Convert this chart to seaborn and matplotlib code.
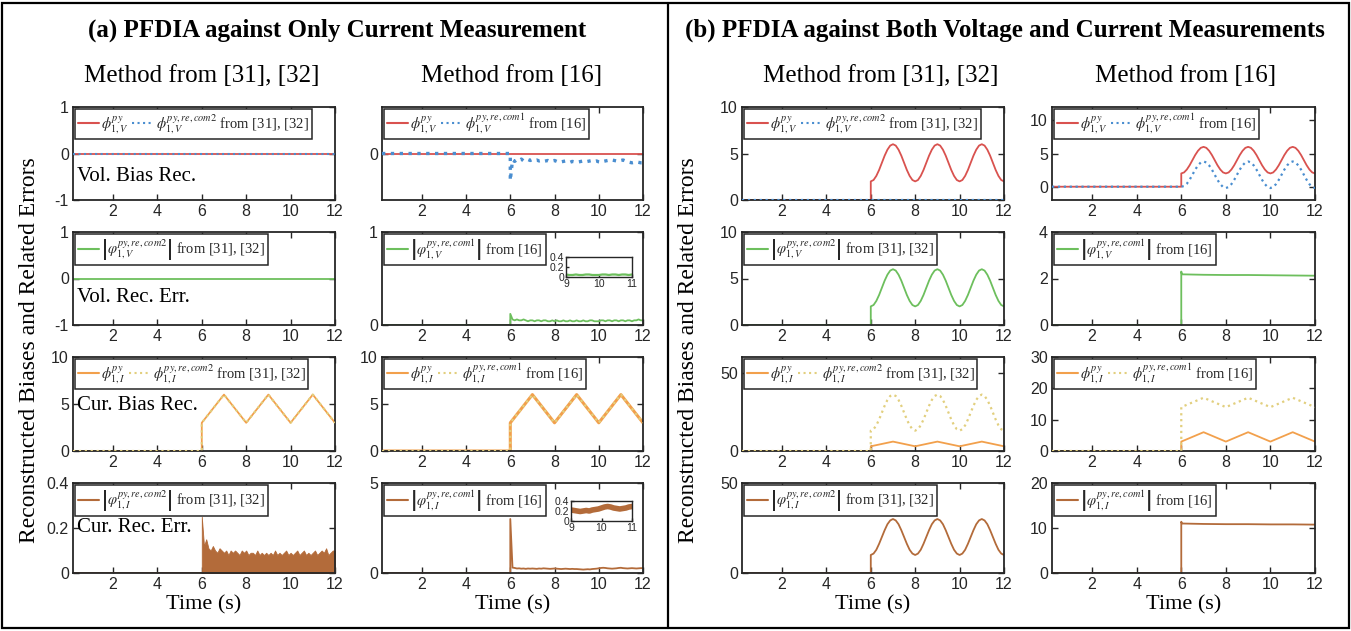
import numpy as np
import matplotlib
matplotlib.use("Agg")
import matplotlib.pyplot as plt
from matplotlib.lines import Line2D
from matplotlib.patches import Rectangle
from matplotlib.ticker import FuncFormatter
import seaborn as sns

# ------------------------------------------------------------------ data
T_PRE = [0.2, 6.0]
ZERO_PRE = [0.0, 0.0]
T_FULL = [0.2, 12.0]
ZERO_FULL = [0.0, 0.0]

# triangular current bias (vertices)
T_TRI = [6.0, 7.0, 8.0, 9.0, 10.0, 11.0, 12.0]
cur_bias_true = [3.0, 6.0, 3.0, 6.0, 3.0, 6.0, 3.0]
cur_bias_rec16_b = [14.0, 17.0, 14.0, 17.0, 14.0, 17.0, 14.0]

# sinusoidal signals, sampled every 0.125 s from 6 s to 12 s
T_SINE = [6.0, 6.125, 6.25, 6.375, 6.5, 6.625, 6.75, 6.875,
          7.0, 7.125, 7.25, 7.375, 7.5, 7.625, 7.75, 7.875,
          8.0, 8.125, 8.25, 8.375, 8.5, 8.625, 8.75, 8.875,
          9.0, 9.125, 9.25, 9.375, 9.5, 9.625, 9.75, 9.875,
          10.0, 10.125, 10.25, 10.375, 10.5, 10.625, 10.75, 10.875,
          11.0, 11.125, 11.25, 11.375, 11.5, 11.625, 11.75, 11.875, 12.0]
vol_bias_true_b = [2.00, 2.15, 2.59, 3.23, 4.00, 4.77, 5.41, 5.85,
                   6.00, 5.85, 5.41, 4.77, 4.00, 3.23, 2.59, 2.15,
                   2.00, 2.15, 2.59, 3.23, 4.00, 4.77, 5.41, 5.85,
                   6.00, 5.85, 5.41, 4.77, 4.00, 3.23, 2.59, 2.15,
                   2.00, 2.15, 2.59, 3.23, 4.00, 4.77, 5.41, 5.85,
                   6.00, 5.85, 5.41, 4.77, 4.00, 3.23, 2.59, 2.15, 2.00]
vol_err_com2_b = [2.00, 2.15, 2.59, 3.23, 4.00, 4.77, 5.41, 5.85,
                  6.00, 5.85, 5.41, 4.77, 4.00, 3.23, 2.59, 2.15,
                  2.00, 2.15, 2.59, 3.23, 4.00, 4.77, 5.41, 5.85,
                  6.00, 5.85, 5.41, 4.77, 4.00, 3.23, 2.59, 2.15,
                  2.00, 2.15, 2.59, 3.23, 4.00, 4.77, 5.41, 5.85,
                  6.00, 5.85, 5.41, 4.77, 4.00, 3.23, 2.59, 2.15, 2.00]
vol_bias_rec16_b = [0.00, 0.10, 0.45, 1.05, 1.80, 2.57, 3.21, 3.65,
                    3.80, 3.65, 3.21, 2.57, 1.80, 1.03, 0.39, -0.05,
                    -0.20, -0.05, 0.39, 1.03, 1.80, 2.57, 3.21, 3.65,
                    3.80, 3.65, 3.21, 2.57, 1.80, 1.03, 0.39, -0.05,
                    -0.20, -0.05, 0.39, 1.03, 1.80, 2.57, 3.21, 3.65,
                    3.80, 3.65, 3.21, 2.57, 1.80, 1.03, 0.39, -0.05, -0.20]
cur_bias_rec_com2_b = [13.0, 13.9, 16.4, 20.1, 24.5, 28.9, 32.6, 35.1,
                       36.0, 35.1, 32.6, 28.9, 24.5, 20.1, 16.4, 13.9,
                       13.0, 13.9, 16.4, 20.1, 24.5, 28.9, 32.6, 35.1,
                       36.0, 35.1, 32.6, 28.9, 24.5, 20.1, 16.4, 13.9,
                       13.0, 13.9, 16.4, 20.1, 24.5, 28.9, 32.6, 35.1,
                       36.0, 35.1, 32.6, 28.9, 24.5, 20.1, 16.4, 13.9, 13.0]
cur_err_com2_b = [10.0, 10.8, 12.9, 16.2, 20.0, 23.8, 27.1, 29.2,
                  30.0, 29.2, 27.1, 23.8, 20.0, 16.2, 12.9, 10.8,
                  10.0, 10.8, 12.9, 16.2, 20.0, 23.8, 27.1, 29.2,
                  30.0, 29.2, 27.1, 23.8, 20.0, 16.2, 12.9, 10.8,
                  10.0, 10.8, 12.9, 16.2, 20.0, 23.8, 27.1, 29.2,
                  30.0, 29.2, 27.1, 23.8, 20.0, 16.2, 12.9, 10.8, 10.0]

# nearly constant errors of method [16] in (b)
T_FLAT = [6.0, 6.03, 6.5, 7.0, 8.0, 9.0, 10.0, 11.0, 12.0]
vol_err16_b = [2.30, 2.18, 2.17, 2.16, 2.15, 2.15, 2.14, 2.13, 2.12]
cur_err16_b = [11.4, 11.0, 10.95, 10.9, 10.85, 10.85, 10.8, 10.8, 10.75]

# noisy signals in (a), sampled every 0.1 s from 6 s to 12 s
T_NOISE = [6.0, 6.1, 6.2, 6.3, 6.4, 6.5, 6.6, 6.7, 6.8, 6.9,
           7.0, 7.1, 7.2, 7.3, 7.4, 7.5, 7.6, 7.7, 7.8, 7.9,
           8.0, 8.1, 8.2, 8.3, 8.4, 8.5, 8.6, 8.7, 8.8, 8.9,
           9.0, 9.1, 9.2, 9.3, 9.4, 9.5, 9.6, 9.7, 9.8, 9.9,
           10.0, 10.1, 10.2, 10.3, 10.4, 10.5, 10.6, 10.7, 10.8, 10.9,
           11.0, 11.1, 11.2, 11.3, 11.4, 11.5, 11.6, 11.7, 11.8, 11.9, 12.0]
vol_bias_rec16_a = [-0.58, -0.14, -0.17, -0.13, -0.15, -0.12, -0.16, -0.14, -0.13, -0.15,
                    -0.13, -0.15, -0.14, -0.16, -0.15, -0.17, -0.16, -0.15, -0.17, -0.16,
                    -0.15, -0.17, -0.16, -0.18, -0.17, -0.16, -0.18, -0.19, -0.17, -0.18,
                    -0.19, -0.18, -0.17, -0.16, -0.18, -0.17, -0.16, -0.15, -0.17, -0.16,
                    -0.18, -0.19, -0.17, -0.16, -0.15, -0.16, -0.14, -0.15, -0.16, -0.17,
                    -0.15, -0.14, -0.16, -0.18, -0.19, -0.20, -0.19, -0.18, -0.19, -0.20, -0.20]
vol_err16_a = [0.12, 0.06, 0.05, 0.06, 0.05, 0.05, 0.06, 0.05, 0.04, 0.05,
               0.05, 0.04, 0.05, 0.05, 0.04, 0.05, 0.05, 0.04, 0.04, 0.05,
               0.04, 0.05, 0.04, 0.04, 0.05, 0.04, 0.04, 0.05, 0.04, 0.04,
               0.05, 0.04, 0.04, 0.05, 0.04, 0.04, 0.05, 0.05, 0.04, 0.04,
               0.04, 0.05, 0.05, 0.04, 0.05, 0.05, 0.04, 0.05, 0.05, 0.04,
               0.05, 0.05, 0.04, 0.05, 0.05, 0.04, 0.05, 0.05, 0.06, 0.05, 0.05]
cur_err_env_com2_a = [0.25, 0.12, 0.15, 0.11, 0.10, 0.12, 0.10, 0.09, 0.11, 0.10,
                      0.09, 0.10, 0.08, 0.10, 0.09, 0.10, 0.09, 0.08, 0.10, 0.09,
                      0.10, 0.08, 0.09, 0.09, 0.08, 0.10, 0.08, 0.09, 0.08, 0.09,
                      0.08, 0.09, 0.08, 0.10, 0.08, 0.09, 0.08, 0.09, 0.10, 0.08,
                      0.09, 0.08, 0.09, 0.10, 0.08, 0.09, 0.10, 0.08, 0.09, 0.08,
                      0.09, 0.10, 0.08, 0.09, 0.10, 0.09, 0.11, 0.08, 0.09, 0.10, 0.10]
cur_err16_a = [3.00, 0.30, 0.28, 0.25, 0.26, 0.24, 0.25, 0.23, 0.25, 0.24,
               0.25, 0.24, 0.23, 0.25, 0.24, 0.26, 0.25, 0.24, 0.23, 0.24,
               0.25, 0.24, 0.23, 0.22, 0.23, 0.24, 0.23, 0.22, 0.23, 0.22,
               0.22, 0.21, 0.20, 0.19, 0.20, 0.21, 0.20, 0.22, 0.23, 0.24,
               0.26, 0.28, 0.29, 0.28, 0.26, 0.25, 0.24, 0.25, 0.26, 0.28,
               0.29, 0.27, 0.26, 0.25, 0.26, 0.27, 0.26, 0.25, 0.26, 0.27, 0.27]

# ------------------------------------------------------------------ style
sns.set_theme(style="ticks")
plt.rcParams['font.family'] = ['Liberation Sans', 'DejaVu Sans']
plt.rcParams['mathtext.fontset'] = 'stix'
plt.rcParams['axes.unicode_minus'] = False

RED = '#D9524F'
BLUE = '#4A8ED0'
GREEN = '#6DBF5D'
ORANGE = '#F2A04C'
YELLOW = '#E2CF7E'
BROWN = '#B36B3A'
DARK = '#262626'
SERIF = 'Liberation Serif'

W, H = 1351, 631
fig = plt.figure(figsize=(W / 100, H / 100), dpi=100)
fig.patch.set_facecolor('white')

COLS = {'a1': (73, 335), 'a2': (382, 643), 'b1': (742, 1004), 'b2': (1052, 1315)}
ROWS = [(107, 200), (232, 325), (357, 451), (483, 573)]


def px_axes(l, r, t, b):
    return fig.add_axes([l / W, 1 - b / H, (r - l) / W, (b - t) / H])


fmt = FuncFormatter(lambda v, p: f"{v:g}")


def style_axes(ax, ylim, yticks, xlim=(0.2, 12), xticks=(2, 4, 6, 8, 10, 12),
               size=11.5, tlen=4, lw=1.3, pad=3):
    ax.set_xlim(*xlim)
    ax.set_ylim(*ylim)
    ax.set_xticks(list(xticks))
    ax.set_yticks(list(yticks))
    ax.xaxis.set_major_formatter(fmt)
    ax.yaxis.set_major_formatter(fmt)
    ax.tick_params(direction='in', top=True, right=True, length=tlen, width=1,
                   labelsize=size, color=DARK, labelcolor=DARK, pad=pad)
    for s in ax.spines.values():
        s.set_visible(True)
        s.set_linewidth(lw)
        s.set_color(DARK)
    ax.set_xlabel('')
    ax.set_ylabel('')
    ax.grid(False)
    ax.set_facecolor('white')


def line(ax, t, v, color, ls='-', lw=1.3, z=2):
    sns.lineplot(x=list(t), y=list(v), ax=ax, color=color, linestyle=ls, linewidth=lw,
                 estimator=None, sort=False, errorbar=None, legend=False, zorder=z)


def legend(ax, entries):
    handles = [Line2D([], [], color=c, ls=ls, lw=1.5) for c, ls, _ in entries]
    labels = [e[2] for e in entries]
    leg = ax.legend(handles, labels, loc='upper left', ncol=len(entries),
                    prop={'family': SERIF, 'size': 10.5}, frameon=True, fancybox=False,
                    edgecolor=DARK, framealpha=1, borderpad=0.2, handlelength=1.4,
                    handletextpad=0.2, columnspacing=0.25, borderaxespad=0.15)
    leg.get_frame().set_linewidth(1.1)
    leg.set_zorder(5)


REF2 = 'from [31], [32]'
REF1 = 'from [16]'
ERR_V2 = r'$\left|\varphi_{1,V}^{py,re,com2}\right|$ '
ERR_V1 = r'$\left|\varphi_{1,V}^{py,re,com1}\right|$ '
ERR_I2 = r'$\left|\varphi_{1,I}^{py,re,com2}\right|$ '
ERR_I1 = r'$\left|\varphi_{1,I}^{py,re,com1}\right|$ '

axes = {}
for col, (l, r) in COLS.items():
    for i, (t, b) in enumerate(ROWS):
        axes[(col, i)] = px_axes(l, r, t, b)

# ---- (a) column 1: method from [31],[32]
ax = axes[('a1', 0)]
line(ax, T_FULL, ZERO_FULL, RED)
line(ax, T_FULL, ZERO_FULL, BLUE, ':', 1.5, 3)
style_axes(ax, (-1, 1), [-1, 0, 1])
legend(ax, [(RED, '-', r'$\phi_{1,V}^{py}$'),
            (BLUE, ':', r'$\phi_{1,V}^{py,re,com2}$ ' + REF2)])

ax = axes[('a1', 1)]
line(ax, T_FULL, ZERO_FULL, GREEN)
style_axes(ax, (-1, 1), [-1, 0, 1])
legend(ax, [(GREEN, '-', ERR_V2 + REF2)])

ax = axes[('a1', 2)]
line(ax, T_PRE + T_TRI, ZERO_PRE + cur_bias_true, ORANGE)
line(ax, T_PRE + T_TRI, ZERO_PRE + cur_bias_true, YELLOW, ':', 1.6, 3)
style_axes(ax, (0, 10), [0, 5, 10])
legend(ax, [(ORANGE, '-', r'$\phi_{1,I}^{py}$'),
            (YELLOW, ':', r'$\phi_{1,I}^{py,re,com2}$ ' + REF2)])

ax = axes[('a1', 3)]
line(ax, T_PRE, ZERO_PRE, BROWN)
ax.fill_between(T_NOISE, 0, cur_err_env_com2_a, color=BROWN, linewidth=0.6, zorder=2)
style_axes(ax, (0, 0.4), [0, 0.2, 0.4])
legend(ax, [(BROWN, '-', ERR_I2 + REF2)])

# ---- (a) column 2: method from [16]
ax = axes[('a2', 0)]
line(ax, T_FULL, ZERO_FULL, RED)
line(ax, T_PRE + T_NOISE, ZERO_PRE + vol_bias_rec16_a, BLUE, ':', 2.4, 3)
style_axes(ax, (-1, 1), [0])
legend(ax, [(RED, '-', r'$\phi_{1,V}^{py}$'),
            (BLUE, ':', r'$\phi_{1,V}^{py,re,com1}$ ' + REF1)])

ax = axes[('a2', 1)]
line(ax, T_PRE + T_NOISE, ZERO_PRE + vol_err16_a, GREEN)
style_axes(ax, (0, 1), [0, 1])
legend(ax, [(GREEN, '-', ERR_V1 + REF1)])
ins = px_axes(566, 632, 257, 277)
line(ins, T_NOISE, vol_err16_a, GREEN, '-', 1.6)
style_axes(ins, (0, 0.4), [0, 0.2, 0.4], xlim=(9, 11), xticks=(9, 10, 11),
           size=7.5, tlen=2, lw=1.0, pad=1.5)
ins.tick_params(top=False, right=False)

ax = axes[('a2', 2)]
line(ax, T_PRE + T_TRI, ZERO_PRE + cur_bias_true, ORANGE, '-', 2.2)
line(ax, T_PRE + T_TRI, ZERO_PRE + cur_bias_true, YELLOW, ':', 1.6, 3)
style_axes(ax, (0, 10), [0, 5, 10])
legend(ax, [(ORANGE, '-', r'$\phi_{1,I}^{py}$'),
            (YELLOW, ':', r'$\phi_{1,I}^{py,re,com1}$ ' + REF1)])

ax = axes[('a2', 3)]
line(ax, T_PRE + T_NOISE, ZERO_PRE + cur_err16_a, BROWN)
style_axes(ax, (0, 5), [0, 5])
legend(ax, [(BROWN, '-', ERR_I1 + REF1)])
ins = px_axes(571, 632, 501, 521)
line(ins, T_NOISE, cur_err16_a, BROWN, '-', 4.0)
style_axes(ins, (0, 0.4), [0, 0.2, 0.4], xlim=(9, 11), xticks=(9, 10, 11),
           size=7.5, tlen=2, lw=1.0, pad=1.5)
ins.tick_params(top=False, right=False)

# ---- (b) column 1: method from [31],[32]
ax = axes[('b1', 0)]
line(ax, T_PRE + T_SINE, ZERO_PRE + vol_bias_true_b, RED)
line(ax, T_FULL, ZERO_FULL, BLUE, ':', 1.6, 3)
style_axes(ax, (0, 10), [0, 5, 10])
legend(ax, [(RED, '-', r'$\phi_{1,V}^{py}$'),
            (BLUE, ':', r'$\phi_{1,V}^{py,re,com2}$ ' + REF2)])

ax = axes[('b1', 1)]
line(ax, T_PRE + T_SINE, ZERO_PRE + vol_err_com2_b, GREEN)
style_axes(ax, (0, 10), [0, 5, 10])
legend(ax, [(GREEN, '-', ERR_V2 + REF2)])

ax = axes[('b1', 2)]
line(ax, T_PRE + T_TRI, ZERO_PRE + cur_bias_true, ORANGE)
line(ax, T_PRE + T_SINE, ZERO_PRE + cur_bias_rec_com2_b, YELLOW, ':', 1.6, 3)
style_axes(ax, (0, 60), [0, 50])
legend(ax, [(ORANGE, '-', r'$\phi_{1,I}^{py}$'),
            (YELLOW, ':', r'$\phi_{1,I}^{py,re,com2}$ ' + REF2)])

ax = axes[('b1', 3)]
line(ax, T_PRE + T_SINE, ZERO_PRE + cur_err_com2_b, BROWN)
style_axes(ax, (0, 50), [0, 50])
legend(ax, [(BROWN, '-', ERR_I2 + REF2)])

# ---- (b) column 2: method from [16]
ax = axes[('b2', 0)]
line(ax, T_PRE + T_SINE, ZERO_PRE + vol_bias_true_b, RED)
line(ax, T_PRE + T_SINE, ZERO_PRE + vol_bias_rec16_b, BLUE, ':', 1.6, 3)
style_axes(ax, (-2, 12), [0, 5, 10])
legend(ax, [(RED, '-', r'$\phi_{1,V}^{py}$'),
            (BLUE, ':', r'$\phi_{1,V}^{py,re,com1}$ ' + REF1)])

ax = axes[('b2', 1)]
line(ax, T_PRE + T_FLAT, ZERO_PRE + vol_err16_b, GREEN)
style_axes(ax, (0, 4), [0, 2, 4])
legend(ax, [(GREEN, '-', ERR_V1 + REF1)])

ax = axes[('b2', 2)]
line(ax, T_PRE + T_TRI, ZERO_PRE + cur_bias_true, ORANGE)
line(ax, T_PRE + T_TRI, ZERO_PRE + cur_bias_rec16_b, YELLOW, ':', 1.6, 3)
style_axes(ax, (0, 30), [0, 10, 20, 30])
legend(ax, [(ORANGE, '-', r'$\phi_{1,I}^{py}$'),
            (YELLOW, ':', r'$\phi_{1,I}^{py,re,com1}$ ' + REF1)])

ax = axes[('b2', 3)]
line(ax, T_PRE + T_FLAT, ZERO_PRE + cur_err16_b, BROWN)
style_axes(ax, (0, 20), [0, 10, 20])
legend(ax, [(BROWN, '-', ERR_I1 + REF1)])

# ------------------------------------------------------------------ texts
def ftext(x, y, s, **kw):
    fig.text(x / W, 1 - y / H, s, **kw)


ftext(337, 30, '(a) PFDIA against Only Current Measurement', ha='center', va='center',
      family=SERIF, fontsize=18, fontweight='bold', color='black')
ftext(1005, 30, '(b) PFDIA against Both Voltage and Current Measurements', ha='center',
      va='center', family=SERIF, fontsize=18, fontweight='bold', color='black')
for x, s in [(202, 'Method from [31], [32]'), (512, 'Method from [16]'),
             (881, 'Method from [31], [32]'), (1186, 'Method from [16]')]:
    ftext(x, 76, s, ha='center', va='center', family=SERIF, fontsize=18, color='black')
for x in (30, 688):
    ftext(x, 350, 'Reconstructed Biases and Related Errors', ha='center', va='center',
          rotation=90, family=SERIF, fontsize=17, color='black')
for col, (l, r) in COLS.items():
    ftext((l + r) / 2, 605, 'Time (s)', ha='center', va='center', family=SERIF,
          fontsize=16, color='black')
for y, s in [(176, 'Vol. Bias Rec.'), (298, 'Vol. Rec. Err.'),
             (405, 'Cur. Bias Rec.'), (528, 'Cur. Rec. Err.')]:
    ftext(77, y, s, ha='left', va='center', family=SERIF, fontsize=15, color='black',
          zorder=10)

# frame and divider
fig.add_artist(Rectangle((2 / W, 3 / H), (W - 4) / W, (H - 6) / H, transform=fig.transFigure,
                         fill=False, edgecolor='black', linewidth=1.6))
fig.add_artist(Line2D([668 / W, 668 / W], [3 / H, 1 - 3 / H], transform=fig.transFigure,
                      color='black', linewidth=1.6))

fig.savefig('out.png', dpi=100, facecolor='white')
